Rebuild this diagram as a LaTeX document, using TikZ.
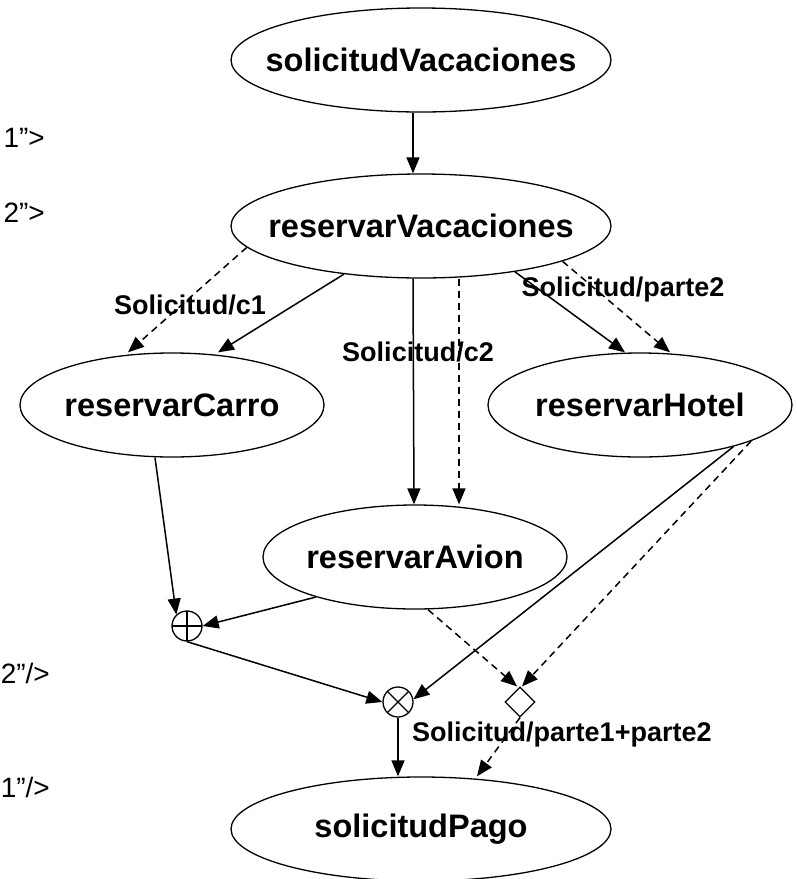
\documentclass[tikz,border=0pt]{standalone}
\usepackage{fontspec}
\setmainfont{Liberation Sans}
\usetikzlibrary{arrows.meta,shapes.geometric}
\begin{document}
\begin{tikzpicture}[x=1pt,y=-1pt,
  proc/.style={draw,ellipse,line width=1.3pt,inner sep=0pt},
  wide/.style={minimum width=380pt,minimum height=104pt},
  narrow/.style={minimum width=304pt,minimum height=104pt},
  ptext/.style={font=\fontsize{32.5}{37}\selectfont\bfseries},
  flow/.style={line width=1.5pt,-{Triangle[length=16pt,width=13pt]}},
  msg/.style={flow,dash pattern=on 7pt off 5pt},
  elabel/.style={font=\fontsize{27}{31}\selectfont\bfseries,inner sep=0pt},
  frag/.style={font=\fontsize{28}{32}\selectfont,inner sep=0pt,anchor=base east},
  gate/.style={draw,circle,line width=1.3pt,minimum size=30pt,inner sep=0pt},
  merge/.style={draw,diamond,line width=1.2pt,minimum width=30pt,minimum height=30pt,inner sep=0pt}]
\useasboundingbox (0,0) rectangle (796,879);

% activities
\node[proc,wide,label={[ptext]center:solicitudVacaciones}] (sv) at (421,60) {};
\node[proc,wide,label={[ptext]center:reservarVacaciones}] (rv) at (421,226) {};
\node[proc,narrow,label={[ptext]center:reservarCarro}] (rc) at (172,405) {};
\node[proc,narrow,label={[ptext]center:reservarHotel}] (rh) at (640,405) {};
\node[proc,narrow,label={[ptext]center:reservarAvion}] (ra) at (415,557) {};
\node[proc,wide,label={[ptext]center:solicitudPago}] (sp) at (421,829) {};

% join gates
\node[gate,path picture={
  \draw[line width=1.2pt] (path picture bounding box.north) -- (path picture bounding box.south)
    (path picture bounding box.west) -- (path picture bounding box.east);}] (op) at (187,626) {};
\node[gate,path picture={
  \draw[line width=1.2pt] (path picture bounding box.north west) -- (path picture bounding box.south east)
    (path picture bounding box.north east) -- (path picture bounding box.south west);}] (ox) at (398,702) {};
\node[merge] (dm) at (520,702) {};

% control flow
\draw[flow] ([xshift=-8pt]sv.south) -- ([xshift=-8pt]rv.north);
\draw[flow] (rv.212) -- ([xshift=46pt]rc.north);
\draw[flow] ([xshift=-8pt]rv.south) -- ([xshift=-1pt]ra.north);
\draw[flow] (rv.-26) -- ([xshift=-15pt]rh.north);
\draw[flow] ([xshift=-17pt]rc.south) -- (op.133);
\draw[flow] (ra.202) -- (op.east);
\draw[flow] (op.south) -- (ox.west);
\draw[flow] (rh.-24) -- (ox.10);
\draw[flow] (ox.south) -- ([xshift=-23pt]sp.north);

% message flow
\draw[msg] (rv.187) -- ([xshift=-44pt]rc.north);
\draw[msg] ([xshift=38pt]rv.south) -- ([xshift=44pt]ra.north);
\draw[msg] (rv.-14.6) -- ([xshift=30pt]rh.north);
\draw[msg] ([xshift=13pt]ra.south) -- ([xshift=-3pt]dm.north);
\draw[msg] (rh.-18) -- ([xshift=2pt]dm.north);
\draw[msg] (dm.south) -- ([xshift=56pt]sp.north);

% message labels
\node[elabel] (l1) at (190,305) {Solicitud/c1};
\node[elabel] (l2) at (418,352) {Solicitud/c2};
\node[elabel] (l3) at (623,290) {Solicitud/parte2};
\node[elabel,anchor=west] (l4) at (412,735) {Solicitud/parte1+parte2};

% markup fragments at the left margin
\node[frag] (f1) at (45,147) {1”>};
\node[frag] (f2) at (45,222) {2”>};
\node[frag] (f3) at (50,683) {2”/>};
\node[frag] (f4) at (50,797) {1”/>};
\end{tikzpicture}
\end{document}
